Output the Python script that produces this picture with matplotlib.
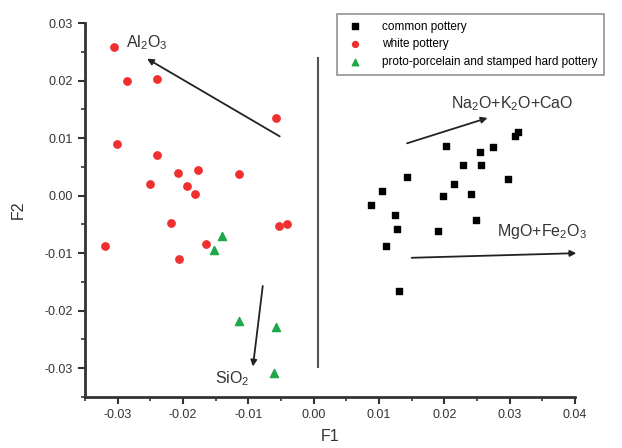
import matplotlib.pyplot as plt
import numpy as np

plt.rcParams['font.family'] = ['Liberation Sans', 'DejaVu Sans']
plt.rcParams['mathtext.fontset'] = 'custom'
plt.rcParams['mathtext.rm'] = 'Liberation Sans'

# common pottery (black squares)
common_x = [0.0203, 0.0254, 0.0275, 0.0308, 0.0312, 0.0229, 0.0256, 0.0143, 0.0297, 0.0215,
            0.0104, 0.0198, 0.0241, 0.0087, 0.0124, 0.0128, 0.0111, 0.0191, 0.0249, 0.0130]
common_y = [0.0086, 0.0076, 0.0084, 0.0103, 0.0111, 0.0054, 0.0053, 0.0032, 0.0029, 0.0020,
            0.0008, 0.0000, 0.0002, -0.0016, -0.0033, -0.0058, -0.0088, -0.0062, -0.0042, -0.0166]

# white pottery (red circles)
white_x = [-0.0305, -0.0285, -0.0240, -0.0058, -0.0301, -0.0240, -0.0208, -0.0177, -0.0115,
           -0.0250, -0.0194, -0.0181, -0.0218, -0.0053, -0.0041, -0.0320, -0.0165, -0.0206]
white_y = [0.0259, 0.0199, 0.0203, 0.0135, 0.0089, 0.0070, 0.0040, 0.0045, 0.0038,
           0.0021, 0.0016, 0.0003, -0.0047, -0.0052, -0.0050, -0.0088, -0.0084, -0.0110]

# proto-porcelain and stamped hard pottery (green triangles)
proto_x = [-0.0140, -0.0153, -0.0114, -0.0058, -0.0061]
proto_y = [-0.0070, -0.0095, -0.0218, -0.0228, -0.0308]

# loading arrows: start, end, label, label position
arrow_labels = ['Al$_\\mathrm{2}$O$_\\mathrm{3}$', 'Na$_\\mathrm{2}$O+K$_\\mathrm{2}$O+CaO',
                'MgO+Fe$_\\mathrm{2}$O$_\\mathrm{3}$', 'SiO$_\\mathrm{2}$']
arrow_start = [(-0.0052, 0.0103), (0.0143, 0.0091), (0.0150, -0.0108), (-0.0078, -0.0157)]
arrow_end = [(-0.0255, 0.0238), (0.0266, 0.0135), (0.0402, -0.0100), (-0.0093, -0.0297)]
label_pos = [(-0.0255, 0.0266), (0.0304, 0.0160), (0.0350, -0.0063), (-0.0124, -0.0318)]

fig = plt.figure(figsize=(6.22, 4.48), dpi=100)
ax = fig.add_axes([0.1367, 0.1138, 0.7878, 0.8348])

ax.scatter(common_x, common_y, marker='s', s=24, color='black', label='common pottery', zorder=3)
ax.scatter(white_x, white_y, marker='o', s=28, color='#f03030', label='white pottery', zorder=3)
ax.scatter(proto_x, proto_y, marker='^', s=34, color='#1fa84a',
           label='proto-porcelain and stamped hard pottery', zorder=3)

for (x0, y0), (x1, y1), lab, (tx, ty) in zip(arrow_start, arrow_end, arrow_labels, label_pos):
    ax.annotate('', xy=(x1, y1), xytext=(x0, y0), annotation_clip=False,
                arrowprops=dict(arrowstyle='-|>', color='#222222', lw=1.3,
                                mutation_scale=9, shrinkA=0, shrinkB=0))
    ax.text(tx, ty, lab, fontsize=11.5, color='#333333', ha='center', va='center')

# dividing line
ax.plot([0.0006, 0.0006], [0.024, -0.0297], color='#555555', lw=1.5)

ax.set_xlim(-0.035, 0.04)
ax.set_ylim(-0.035, 0.03)
ax.set_xticks(np.arange(-0.03, 0.041, 0.01))
ax.set_yticks(np.arange(-0.03, 0.031, 0.01))
ax.set_xticks(np.arange(-0.035, 0.041, 0.005), minor=True)
ax.set_yticks(np.arange(-0.035, 0.031, 0.005), minor=True)
ax.xaxis.set_major_formatter(plt.FuncFormatter(lambda v, p: '%.2f' % (0 if abs(v) < 1e-9 else v)))
ax.yaxis.set_major_formatter(plt.FuncFormatter(lambda v, p: '%.2f' % (0 if abs(v) < 1e-9 else v)))

for side in ['top', 'right']:
    ax.spines[side].set_visible(False)
for side in ['left', 'bottom']:
    ax.spines[side].set_linewidth(2)
    ax.spines[side].set_color('#333333')
ax.tick_params(which='major', direction='out', length=5, width=1.5, colors='#333333', labelsize=9)
ax.tick_params(which='minor', direction='out', length=3, width=1.2, colors='#333333')

ax.set_xlabel('F1', fontsize=11.5, color='#333333', labelpad=6)
ax.set_ylabel('F2', fontsize=11.5, color='#333333', labelpad=14)

leg = ax.legend(loc='upper left', bbox_to_anchor=(0.514, 1.024), borderaxespad=0, fontsize=8.5,
                frameon=True, fancybox=False, edgecolor='#777777', borderpad=0.55, labelspacing=0.5,
                handletextpad=1.3, markerscale=0.8)
leg.get_frame().set_linewidth(1.2)

fig.savefig('out.png', dpi=100)
